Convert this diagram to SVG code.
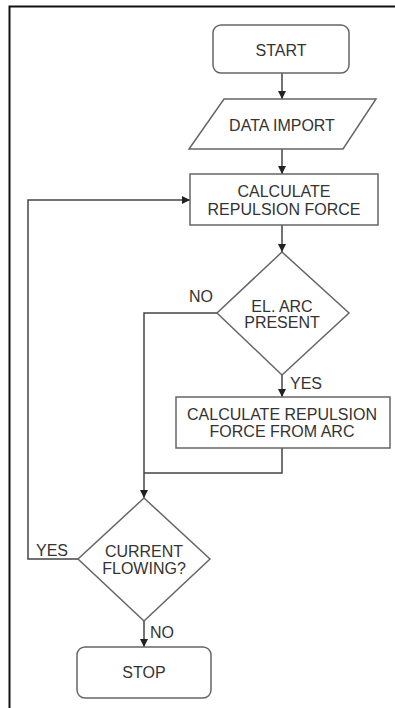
<svg xmlns="http://www.w3.org/2000/svg" width="395" height="708" viewBox="0 0 395 708">
<style>
.n{fill:#fff;stroke:#666;stroke-width:1.5}
.t{font-family:"Liberation Sans",Arial,sans-serif;font-size:16px;fill:#333;text-anchor:middle}
.l{font-family:"Liberation Sans",Arial,sans-serif;font-size:16px;fill:#333}
.c{fill:none;stroke:#444;stroke-width:1.5}
</style>
<defs>
<marker id="ah" markerWidth="8" markerHeight="8" refX="8" refY="4" orient="auto" markerUnits="userSpaceOnUse">
<path d="M0,0 L8,4 L0,8 Z" fill="#222"/>
</marker>
</defs>
<rect width="395" height="708" fill="#fff"/>
<path d="M9.5 708 V6.5 H395" fill="none" stroke="#111" stroke-width="2"/>
<g id="connectors">
<path class="c" d="M282 73 V99" marker-end="url(#ah)"/>
<path class="c" d="M282 149 V174" marker-end="url(#ah)"/>
<path class="c" d="M282 225 V252" marker-end="url(#ah)"/>
<path class="c" d="M282 375 V397" marker-end="url(#ah)"/>
<path class="c" d="M217 313 H144 V498" marker-end="url(#ah)"/>
<path class="c" d="M282 448 V473 H144"/>
<path class="c" d="M144 621 V647" marker-end="url(#ah)"/>
<path class="c" d="M78 559 H28 V200 H190" marker-end="url(#ah)"/>
</g>
<g id="start"><rect class="n" x="213" y="25" width="136" height="48" rx="8"/><text class="t" x="281" y="56">START</text></g>
<g id="data-import"><polygon class="n" points="224,99 376,99 343,149 189,149"/><text class="t" x="282" y="131">DATA IMPORT</text></g>
<g id="calc-force"><rect class="n" x="190" y="174" width="188" height="51"/><text class="t" x="284" y="197">CALCULATE</text><text class="t" x="284" y="214.5">REPULSION FORCE</text></g>
<g id="arc-present"><polygon class="n" points="282,252 349,313 282,375 217,313"/><text class="t" x="282" y="312">EL. ARC</text><text class="t" x="282" y="328">PRESENT</text></g>
<g id="calc-arc"><rect class="n" x="176" y="397" width="214" height="51"/><text class="t" x="282" y="420">CALCULATE REPULSION</text><text class="t" x="282" y="437">FORCE FROM ARC</text></g>
<g id="current-flowing"><polygon class="n" points="144,498 210,559 144,621 78,559"/><text class="t" x="144" y="557">CURRENT</text><text class="t" x="144" y="574">FLOWING?</text></g>
<g id="stop"><rect class="n" x="77" y="647" width="134" height="51" rx="8"/><text class="t" x="144" y="678">STOP</text></g>
<g id="labels">
<text class="l" x="189" y="302">NO</text>
<text class="l" x="290" y="389">YES</text>
<text class="l" x="36" y="556">YES</text>
<text class="l" x="150" y="638">NO</text>
</g>
</svg>
